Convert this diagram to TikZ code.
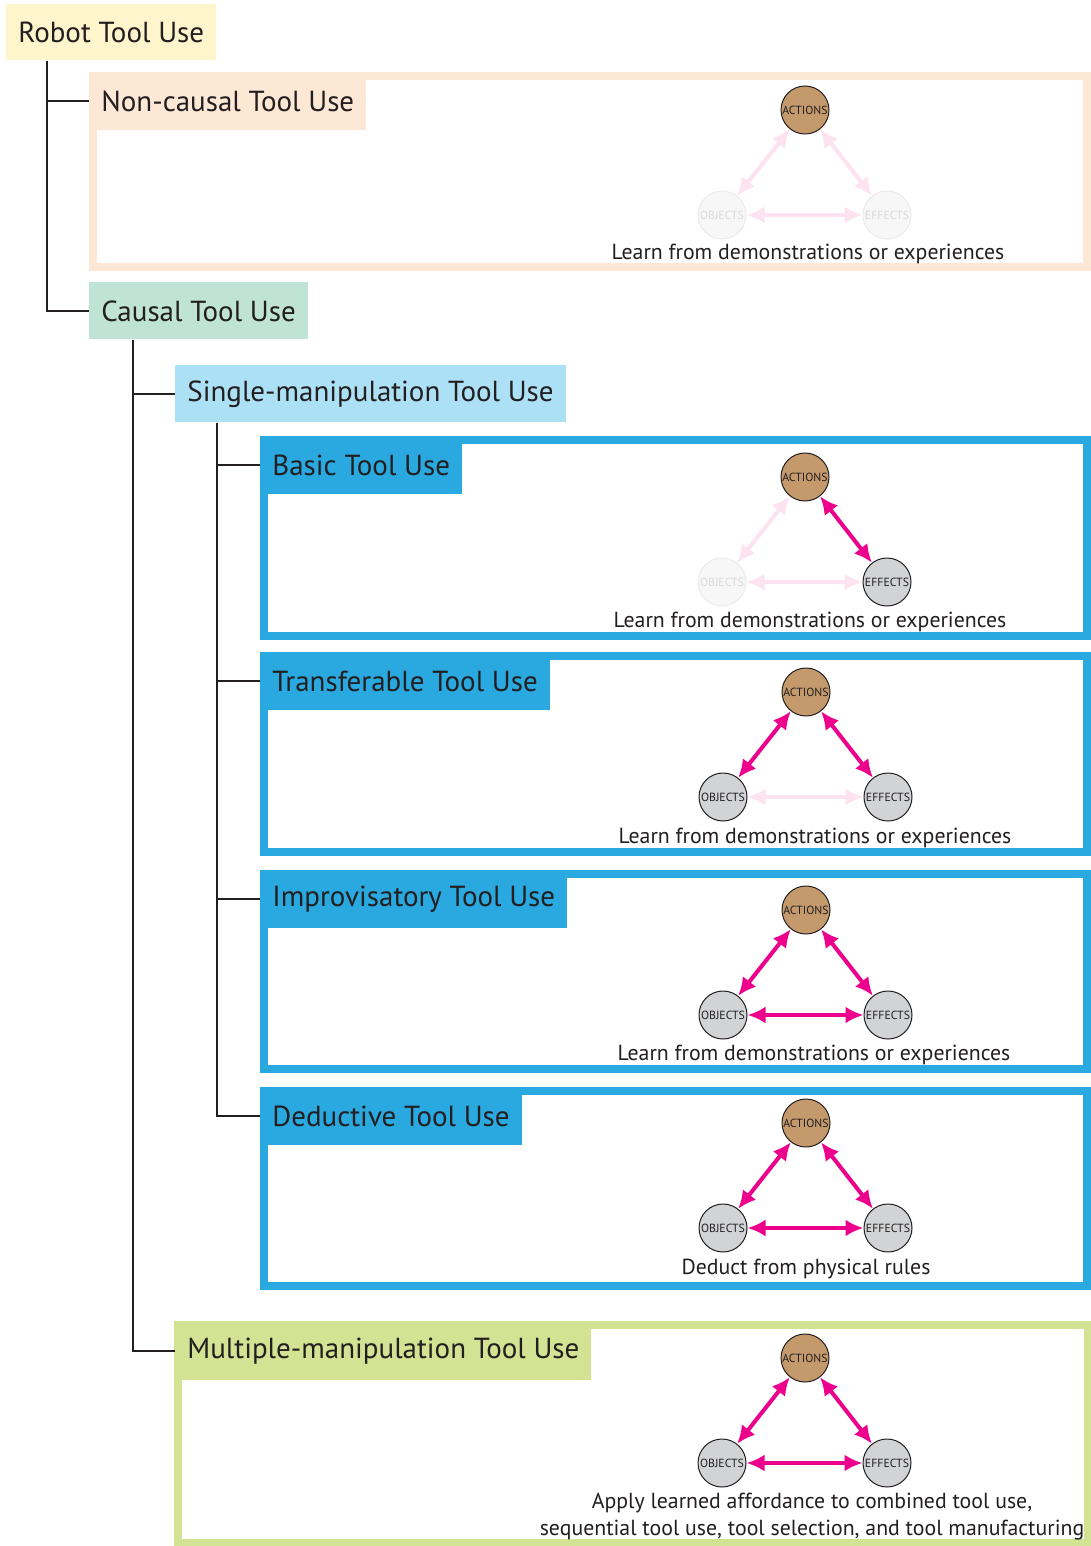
\documentclass[tikz,border=0pt]{standalone}
\usepackage{fontspec}
\setmainfont{PT Sans}
\usetikzlibrary{arrows.meta}

\definecolor{ink}{HTML}{231F20}
\definecolor{robotyellow}{HTML}{FFF5CC}
\definecolor{peach}{HTML}{FDE7D5}
\definecolor{causalgreen}{HTML}{BFE3D5}
\definecolor{singleblue}{HTML}{ACE0F5}
\definecolor{sky}{HTML}{29A9E0}
\definecolor{lime}{HTML}{D3E293}
\definecolor{actbrown}{HTML}{C49A6C}
\definecolor{stone}{HTML}{D1D3D4}
\definecolor{hotpink}{HTML}{EC008C}
\definecolor{palepink}{HTML}{FDE2F0}

% one actions/objects/effects triangle
% #1,#2 actions centre, #3 name, #4 objects style, #5 effects style,
% #6 actions-objects, #7 actions-effects, #8 objects-effects
\newcommand{\triad}[8]{%
  \node[action] (#3act) at (#1,#2) {ACTIONS};
  \node[#4] (#3obj) at (#1-83,#2+105) {OBJECTS};
  \node[#5] (#3eff) at (#1+82,#2+105) {EFFECTS};
  \draw[#6] (#3act) -- (#3obj);
  \draw[#7] (#3act) -- (#3eff);
  \draw[#8] (#3obj) -- (#3eff);
}

\begin{document}
\begin{tikzpicture}[x=0.5pt, y=-0.5pt,
  labelbox/.style={anchor=north west, minimum height=29pt, inner xsep=6pt, inner ysep=0pt, text=ink, font=\fontsize{14.5}{16}\selectfont},
  tree/.style={draw=ink, line width=1pt},
  frame/.style={line width=4pt},
  action/.style={circle, draw=ink, fill=actbrown, line width=0.5pt, minimum size=24pt, inner sep=0pt, text=ink, font=\fontsize{5.9}{6}\selectfont},
  thing/.style={action, fill=stone},
  ghost/.style={action, draw=black!8, fill=black!3, text=black!15},
  link/.style={{Latex[length=9pt,width=8.5pt]}-{Latex[length=9pt,width=8.5pt]}, line width=2pt, draw=hotpink},
  faintlink/.style={link, draw=palepink},
  caption/.style={anchor=base, inner sep=0pt, text=ink, font=\fontsize{10.9}{12}\selectfont}
]
\useasboundingbox (0,0) rectangle (1091,1546);
\fill[white] (0,0) rectangle (1091,1546);

% frames
\draw[frame, draw=peach] (93,76) rectangle (1087,267);
\foreach \top/\bot in {440/636, 656/852, 874/1069, 1091/1286}
  \draw[frame, draw=sky] (264,\top) rectangle (1087,\bot);
\draw[frame, draw=lime] (178,1325) rectangle (1088,1543);

% category boxes
\node[labelbox, fill=robotyellow, minimum height=28pt] (robot) at (6,4) {Robot Tool Use};
\node[labelbox, fill=peach] (noncausal) at (89,72) {Non-causal Tool Use};
\node[labelbox, fill=causalgreen, minimum height=28.5pt] (causal) at (89,282) {Causal Tool Use};
\node[labelbox, fill=singleblue, minimum height=28.5pt] (single) at (175,365) {Single-manipulation Tool Use};
\node[labelbox, fill=sky] (basic) at (260,436) {Basic Tool Use};
\node[labelbox, fill=sky] (transfer) at (260,652) {Transferable Tool Use};
\node[labelbox, fill=sky] (improv) at (260,870) {Improvisatory Tool Use};
\node[labelbox, fill=sky] (deduct) at (260,1087) {Deductive Tool Use};
\node[labelbox, fill=lime] (multiple) at (175,1322) {Multiple-manipulation Tool Use};

% tree
\draw[tree] ([xshift=20.5pt]robot.south west) |- (noncausal.west);
\draw[tree] ([xshift=20.5pt]robot.south west) |- (causal.west);
\draw[tree] ([xshift=22pt]causal.south west) |- (single.west);
\draw[tree] ([xshift=22pt]causal.south west) |- (multiple.west);
\foreach \leaf in {basic, transfer, improv, deduct}
  \draw[tree] ([xshift=21pt]single.south west) |- (\leaf.west);

% triangles
\triad{805}{110}{nc}{ghost}{ghost}{faintlink}{faintlink}{faintlink}
\node[caption] (nctxt) at (808,259) {Learn from demonstrations or experiences};

\triad{805}{477}{bs}{ghost}{thing}{faintlink}{link}{faintlink}
\node[caption] (bstxt) at (810,627) {Learn from demonstrations or experiences};

\triad{806}{692}{tr}{thing}{thing}{link}{link}{faintlink}
\node[caption] (trtxt) at (815,843) {Learn from demonstrations or experiences};

\triad{806}{910}{im}{thing}{thing}{link}{link}{link}
\node[caption] (imtxt) at (814,1060) {Learn from demonstrations or experiences};

\triad{806}{1123}{dd}{thing}{thing}{link}{link}{link}
\node[caption] (ddtxt) at (806,1274) {Deduct from physical rules};

\triad{805}{1358}{mm}{thing}{thing}{link}{link}{link}
\node[caption] (mmtxt) at (812,1508) {Apply learned affordance to combined tool use,};
\node[caption] (mmtxt2) at (812,1535) {sequential tool use, tool selection, and tool manufacturing};
\end{tikzpicture}
\end{document}
